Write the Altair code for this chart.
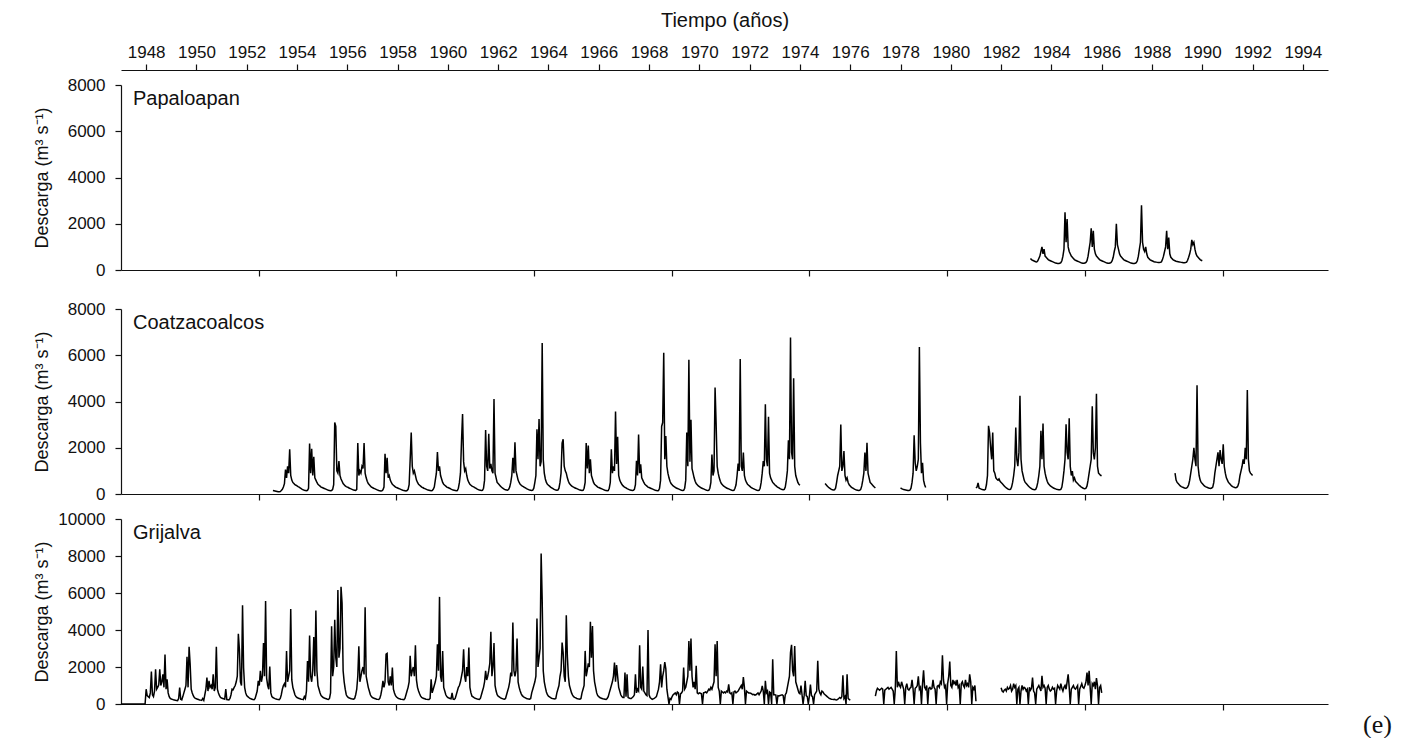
import altair as alt
import pandas as pd

# Discharge records (m3/s), one row per year, values spread evenly over the year.
# Each list is a continuous stretch of record; gaps between stretches are not joined.

papaloapan_1983 = [
    [None, None, None, None, 500, 450, 420, 400, 380, 360, 350, 400, 500, 600, 800, 1000, 700, 900, 600, 550, 500, 450, 420, 400],
    [380, 360, 340, 320, 300, 290, 280, 280, 290, 320, 400, 600, 900, 2500, 1200, 2200, 1000, 800, 700, 600, 550, 500, 450, 420],
    [400, 380, 360, 340, 320, 300, 290, 290, 300, 330, 400, 600, 900, 1200, 1800, 1000, 1700, 900, 700, 600, 550, 500, 450, 420],
    [400, 380, 360, 340, 320, 300, 290, 290, 300, 330, 400, 550, 800, 1000, 2000, 1100, 900, 700, 600, 550, 500, 450, 420, 400],
    [380, 360, 340, 320, 300, 290, 280, 280, 290, 320, 400, 600, 900, 1200, 2800, 1200, 900, 800, 1000, 700, 550, 500, 450, 420],
    [400, 380, 360, 350, 340, 330, 320, 320, 330, 350, 450, 600, 800, 1000, 1700, 900, 1400, 700, 550, 500, 450, 420, 400, 380],
    [370, 360, 350, 340, 330, 320, 310, 310, 320, 340, 420, 550, 700, 900, 1300, 1100, 1200, 900, 700, 600, 550, 500, 450, 420],
    [400],
]

coatza_1953 = [
    [None, 150, 140, 130, 120, 110, 100, 100, 110, 150, 200, 300, 450, 1060, 700, 1200, 900, 1930, 800, 600, 500, 450, 400, 380],
    [350, 320, 300, 260, 230, 200, 180, 160, 150, 140, 160, 250, 2180, 900, 1960, 800, 1610, 700, 600, 500, 420, 380, 340, 300],
    [280, 260, 240, 220, 200, 180, 160, 150, 140, 150, 200, 400, 3090, 2930, 1000, 900, 1420, 800, 650, 550, 450, 400, 350, 320],
    [300, 280, 250, 230, 210, 190, 170, 160, 150, 200, 2200, 800, 1000, 900, 1200, 1100, 2200, 900, 700, 550, 450, 400, 350, 300],
    [280, 250, 230, 210, 190, 170, 150, 140, 130, 140, 180, 300, 1740, 900, 1570, 700, 800, 600, 500, 420, 380, 340, 300, 280],
    [260, 240, 220, 200, 180, 160, 150, 140, 130, 150, 200, 400, 1500, 2660, 1200, 900, 1000, 800, 600, 500, 420, 380, 340, 300],
    [280, 250, 230, 210, 190, 170, 160, 150, 140, 150, 200, 300, 600, 900, 1815, 1000, 1200, 800, 650, 500, 420, 380, 340, 300],
    [280, 260, 240, 210, 190, 170, 160, 150, 140, 150, 250, 500, 900, 2300, 3455, 1400, 1000, 1100, 800, 600, 500, 420, 380, 340],
    [320, 300, 270, 240, 210, 190, 170, 160, 150, 160, 250, 600, 2770, 1200, 1000, 2600, 1100, 1300, 1000, 900, 4110, 900, 700, 500],
    [450, 400, 350, 300, 260, 230, 200, 180, 170, 160, 200, 300, 500, 800, 1570, 900, 2235, 1000, 800, 600, 500, 420, 380, 340],
    [320, 290, 260, 230, 210, 190, 170, 160, 150, 170, 250, 500, 800, 2800, 1500, 3240, 1200, 1400, 6530, 1500, 900, 650, 500, 420],
    [380, 340, 300, 270, 240, 210, 190, 170, 160, 170, 250, 500, 900, 2200, 2370, 1200, 1000, 900, 700, 550, 450, 400, 350, 320],
    [300, 270, 250, 230, 210, 190, 170, 160, 150, 160, 250, 500, 2200, 1100, 2100, 900, 1500, 800, 650, 500, 420, 380, 340, 300],
    [280, 260, 240, 220, 200, 180, 160, 150, 140, 150, 250, 500, 1930, 900, 1200, 1000, 3570, 1300, 2470, 800, 600, 500, 420, 360],
    [320, 290, 260, 230, 210, 190, 170, 160, 150, 160, 200, 400, 1440, 800, 2570, 900, 1280, 700, 600, 500, 420, 380, 340, 300],
    [280, 260, 240, 220, 200, 180, 160, 150, 140, 150, 250, 600, 2920, 3090, 6110, 1500, 2510, 1200, 900, 700, 550, 450, 400, 350],
    [320, 290, 260, 240, 220, 200, 180, 160, 150, 160, 250, 600, 2660, 1200, 5810, 1400, 3210, 1100, 900, 700, 550, 450, 400, 350],
    [320, 290, 260, 240, 220, 200, 180, 160, 150, 160, 250, 500, 1710, 800, 1000, 4600, 3050, 1200, 900, 700, 550, 450, 400, 350],
    [320, 290, 260, 240, 220, 200, 180, 160, 150, 160, 250, 400, 800, 1320, 1000, 5840, 1200, 1000, 1790, 800, 600, 500, 420, 380],
    [340, 300, 270, 240, 220, 200, 180, 160, 150, 160, 250, 500, 900, 1420, 1200, 3880, 1500, 1200, 3340, 900, 700, 600, 500, 450],
    [400, 360, 320, 290, 260, 230, 210, 190, 180, 200, 300, 600, 1000, 2320, 1500, 6770, 1800, 1500, 5010, 1200, 800, 650, 500, 420],
    [380],
]

coatza_1975 = [
    [450, 400, 350, 300, 260, 230, 200, 180, 170, 180, 250, 500, 800, 1000, 1200, 3005, 1000, 1200, 1860, 800, 600, 700, 500, 400],
    [350, 300, 270, 240, 210, 190, 170, 160, 150, 160, 200, 350, 600, 900, 1790, 1000, 2220, 900, 700, 500, 450, 400, 350, 300],
    [260],
]

coatza_1978 = [
    [260, 230, 210, 190, 180, 170, 160, 150, 150, 170, 250, 500, 900, 2540, 1350, 1000, 1200, 1500, 6360, 2220, 900, 1350, 600, 400],
    [280],
]

coatza_1981 = [
    [260, 300, 480, 250, 230, 210, 190, 180, 170, 200, 400, 800, 2950, 2660, 2000, 1500, 2660, 1000, 900, 700, 640, 600, 650, 550],
    [500, 450, 400, 350, 300, 260, 230, 200, 190, 200, 300, 500, 800, 1200, 2870, 1500, 1200, 1800, 4250, 1500, 1000, 800, 600, 500],
    [450, 400, 350, 300, 260, 230, 200, 190, 180, 200, 300, 500, 800, 1200, 2730, 1500, 3050, 1200, 900, 700, 550, 450, 400, 350],
    [320, 290, 260, 240, 220, 200, 190, 180, 180, 200, 300, 600, 1000, 1500, 3020, 1800, 1500, 3270, 1200, 800, 990, 600, 700, 550],
    [500, 450, 400, 360, 320, 290, 260, 240, 230, 250, 350, 600, 900, 1200, 1500, 3790, 1800, 1500, 2000, 4330, 1200, 900, 850, 800],
    [800],
]

coatza_1988 = [
    [None, None, None, None, None, None, None, None, None, None, None, None, None, None, None, None, None, None, None, None, None, None, 900, 600],
    [500, 450, 400, 350, 320, 300, 280, 260, 250, 260, 300, 400, 600, 900, 1200, 1500, 2000, 1500, 1200, 4700, 1200, 800, 600, 500],
    [450, 400, 350, 320, 300, 280, 260, 250, 240, 260, 300, 500, 900, 1200, 1500, 1800, 1200, 1900, 1500, 1300, 2150, 1200, 900, 700],
    [600, 500, 450, 400, 350, 320, 300, 280, 270, 290, 350, 500, 800, 1000, 1200, 1500, 1300, 2000, 1500, 4500, 1500, 1000, 900, 850],
    [800],
]

grijalva_1947 = [
    [0, 0, 0, 0, 0, 0, 0, 0, 0, 0, 0, 0, 0, 0, 0, 0, 0, 0, 0, 0, 0, 0, 0, 0],
    [800, 450, 400, 350, 600, 1750, 500, 400, 700, 1875, 800, 900, 1020, 1880, 1000, 1200, 1600, 900, 2680, 800, 1340, 600, 400, 300],
    [270, 250, 230, 220, 200, 190, 180, 300, 890, 250, 220, 400, 600, 800, 1000, 2550, 900, 3090, 2140, 800, 600, 450, 350, 300],
    [280, 260, 240, 220, 210, 200, 300, 200, 500, 800, 1430, 700, 1250, 900, 1000, 800, 1600, 700, 900, 3090, 800, 600, 450, 350],
    [320, 300, 280, 260, 800, 240, 230, 220, 300, 500, 800, 770, 900, 1000, 1200, 1500, 3800, 2950, 1200, 1000, 5340, 1960, 900, 600],
    [450, 400, 350, 300, 280, 260, 240, 230, 300, 500, 700, 1250, 1000, 1790, 1200, 1500, 3300, 1500, 5570, 1400, 1000, 800, 2020, 600],
    [400, 350, 320, 290, 270, 250, 240, 230, 300, 500, 800, 1000, 1100, 900, 2860, 1200, 1500, 1800, 5130, 1300, 900, 700, 500, 400],
    [350, 320, 300, 280, 260, 250, 240, 400, 300, 700, 2320, 1200, 3700, 1500, 1200, 1800, 3625, 1500, 5050, 1800, 1000, 800, 600, 450],
    [400, 350, 320, 300, 280, 260, 250, 300, 600, 4200, 1500, 2000, 4550, 2500, 2000, 6160, 2500, 3000, 6340, 5450, 1800, 1200, 800, 500],
    [400, 350, 320, 300, 280, 270, 260, 300, 500, 800, 1500, 3125, 1200, 1500, 1800, 2000, 1600, 5230, 1500, 1200, 900, 700, 500, 400],
    [350, 320, 300, 280, 260, 250, 240, 300, 500, 800, 1250, 900, 1200, 2690, 2730, 1200, 1000, 1500, 1000, 1970, 800, 600, 450, 380],
    [330, 300, 280, 260, 250, 240, 230, 300, 500, 700, 900, 1200, 2600, 1500, 1800, 2000, 1500, 3180, 1300, 900, 700, 550, 420, 350],
    [320, 300, 280, 260, 250, 240, 240, 300, 1340, 600, 800, 1000, 1200, 1500, 3230, 1800, 5790, 1500, 1200, 2870, 900, 700, 500, 400],
    [350, 320, 300, 280, 600, 260, 250, 300, 500, 700, 900, 1000, 1200, 1500, 1800, 2960, 1500, 1200, 2000, 1500, 3050, 900, 600, 420],
    [380, 340, 310, 290, 270, 260, 250, 300, 500, 700, 900, 1200, 1790, 1300, 1500, 1800, 2200, 3900, 1500, 2000, 3290, 1000, 700, 500],
    [420, 380, 340, 310, 290, 270, 260, 300, 500, 700, 900, 1200, 1700, 1500, 4400, 1800, 1500, 1800, 3540, 1200, 900, 700, 550, 450],
    [400, 360, 330, 300, 280, 270, 260, 300, 600, 800, 1000, 1200, 1500, 4620, 2000, 2500, 3000, 8140, 5610, 1800, 1200, 900, 650, 500],
    [420, 380, 340, 310, 290, 280, 270, 300, 600, 800, 1000, 1500, 1800, 3320, 2780, 1500, 1200, 4800, 2600, 1500, 1000, 800, 600, 480],
    [400, 360, 330, 300, 280, 270, 260, 300, 600, 800, 1000, 2870, 1500, 1800, 2200, 2000, 4440, 2500, 4220, 1800, 1200, 900, 600, 450],
    [400, 350, 320, 300, 280, 270, 260, 250, 300, 400, 600, 800, 1000, 1200, 1500, 2240, 1200, 2100, 1500, 900, 700, 500, 400, 350],
    [350, 1700, 400, 1600, 350, 320, 300, 300, 350, 400, 500, 1600, 600, 800, 700, 3180, 900, 800, 2020, 700, 600, 500, 450, 4000],
    [500, 350, 300, 250, 280, 300, 350, 400, 600, 800, 1200, 2150, 900, 1500, 1800, 2270, 1900, 800, 400, 0, 300, 250, 400, 500],
    [550, 600, 500, 650, 600, 0, 550, 600, 700, 1970, 800, 900, 1200, 1500, 3410, 1800, 3540, 1500, 900, 1200, 800, 2060, 600, 550],
    [600, 580, 550, 0, 600, 620, 650, 600, 700, 800, 750, 900, 800, 1000, 1200, 3230, 1500, 3410, 900, 700, 0, 700, 650, 600],
    [650, 600, 700, 650, 1060, 600, 550, 600, 0, 650, 700, 600, 650, 700, 800, 900, 1000, 800, 1460, 900, 0, 700, 650, 600],
    [600, 580, 550, 500, 520, 480, 500, 550, 600, 500, 600, 700, 975, 700, 0, 1250, 600, 700, 0, 650, 600, 0, 2420, 500],
    [500, 480, 0, 450, 430, 460, 480, 500, 450, 0, 500, 600, 900, 1200, 1500, 2780, 3200, 1800, 1500, 3140, 1200, 1000, 800, 600],
    [550, 1000, 500, 0, 450, 1250, 450, 400, 0, 420, 1050, 450, 400, 0, 500, 600, 700, 2330, 800, 600, 500, 700, 650, 550],
    [500, 450, 400, 350, 300, 280, 260, 250, 240, 250, 230, 220, 250, 300, 350, 300, 400, 1550, 300, 400, 0, 1600, 300, 250],
    [200],
]

grijalva_1977 = [
    [430, 700, 850, 800, 750, 800, 850, 800, 0, 750, 800, 850, 900, 800, 850, 900, 800, 700, 0, 800, 2870, 900, 1200, 1000],
    [900, 1200, 1000, 800, 0, 900, 1100, 800, 750, 850, 900, 1300, 800, 0, 850, 900, 1000, 1500, 800, 900, 0, 1100, 1820, 900],
    [800, 1000, 0, 850, 900, 800, 850, 1300, 900, 800, 0, 950, 1000, 900, 1200, 1100, 2640, 1300, 900, 1000, 0, 1100, 1500, 2290],
    [1000, 900, 1300, 1100, 1200, 1000, 1300, 900, 1000, 0, 1100, 1200, 1000, 900, 1300, 1000, 1100, 900, 1600, 1200, 0, 900, 800, 1000],
    [150],
]

grijalva_1982 = [
    [880, 700, 650, 750, 800, 700, 900, 800, 850, 1000, 700, 800, 1100, 900, 1000, 0, 800, 900, 0, 700, 1000, 800, 900, 850],
    [700, 800, 0, 900, 750, 850, 1430, 700, 600, 0, 800, 900, 1000, 850, 700, 1520, 900, 1000, 850, 0, 900, 1000, 800, 700],
    [750, 900, 800, 850, 0, 700, 1000, 900, 800, 1100, 850, 700, 900, 1000, 800, 1200, 1600, 900, 0, 800, 900, 1000, 850, 800],
    [900, 1000, 0, 800, 950, 1100, 900, 850, 1000, 1200, 1700, 1000, 1790, 900, 0, 1100, 1000, 1200, 800, 1400, 1000, 0, 900, 1000],
    [600],
]

TOP_YEARS = list(range(1948, 1995, 2))
# bottom axes carry a tick every 2000 days from 1 Jan 1947
DAY_TICKS = [1947 + d / 365.25 for d in range(2000, 16001, 2000)]


def expand(first_year, rows, label):
    recs = []
    for k, row in enumerate(rows):
        n = len(row)
        for i, q in enumerate(row):
            if q is None:
                continue
            recs.append({"t": first_year + k + i / n, "q": q, "tramo": label})
    return recs


pap = pd.DataFrame(expand(1983, papaloapan_1983, "a"))
coa = pd.DataFrame(
    expand(1953, coatza_1953, "a") + expand(1975, coatza_1975, "b")
    + expand(1978, coatza_1978, "c") + expand(1981, coatza_1981, "d")
    + expand(1988, coatza_1988, "e")
)
gri = pd.DataFrame(
    expand(1947, grijalva_1947, "a") + expand(1977, grijalva_1977, "b")
    + expand(1982, grijalva_1982, "c")
)

W, H = 1207, 185
FONT = "Liberation Sans"
INK = "#111"
X_SCALE = alt.Scale(domain=[1947, 1995], nice=False, zero=False)

bottom_axis = alt.Axis(
    values=DAY_TICKS, labels=False, title=None, grid=False,
    tickSize=6, tickColor=INK, domainColor=INK, domainWidth=1.2, tickWidth=1.2,
)


def y_axis(top):
    return alt.Axis(
        values=list(range(0, top + 1, 2000)), format="d", title="Descarga (m³ s⁻¹)", grid=False,
        tickSize=6, tickColor=INK, domainColor=INK, domainWidth=1.2, tickWidth=1.2,
        labelFont=FONT, labelFontSize=17, labelColor=INK, labelPadding=10,
        titleFont=FONT, titleFontSize=18, titleFontWeight="normal", titleColor=INK,
        titleX=-70, titleY=H / 2,
    )


def panel(df, top, name):
    line = alt.Chart(df).mark_line(color="black", strokeWidth=1.5).encode(
        x=alt.X("t:Q", scale=X_SCALE, axis=bottom_axis),
        y=alt.Y("q:Q", scale=alt.Scale(domain=[0, top], nice=False), axis=y_axis(top)),
        detail="tramo:N",
    )
    label = alt.Chart(pd.DataFrame({"s": [name]})).mark_text(
        align="left", baseline="middle", font=FONT, fontSize=20, color=INK
    ).encode(text="s:N", x=alt.value(12), y=alt.value(14))
    return line, label


p1_line, p1_label = panel(pap, 8000, "Papaloapan")
top_axis = alt.Chart(pap).mark_point(opacity=0).encode(
    x=alt.X(
        "t:Q", scale=X_SCALE,
        axis=alt.Axis(
            orient="top", values=TOP_YEARS, format="d", offset=15, grid=False,
            tickSize=6, tickColor=INK, domainColor=INK, domainWidth=1.2, tickWidth=1.2,
            labelFont=FONT, labelFontSize=17, labelColor=INK, labelPadding=2.5,
            title="Tiempo (años)", titleFont=FONT, titleFontSize=20,
            titleFontWeight="normal", titleColor=INK, titlePadding=13,
        ),
    )
)
p1 = alt.layer(p1_line, p1_label, top_axis).resolve_axis(x="independent").properties(width=W, height=H)

p2_line, p2_label = panel(coa, 8000, "Coatzacoalcos")
p2 = alt.layer(p2_line, p2_label).properties(width=W, height=H)

p3_line, p3_label = panel(gri, 10000, "Grijalva")
tag = alt.Chart(pd.DataFrame({"s": ["(e)"]})).mark_text(
    align="left", baseline="middle", font="Liberation Serif", fontSize=26, color=INK
).encode(text="s:N", x=alt.value(1242), y=alt.value(H + 21))
p3 = alt.layer(p3_line, p3_label, tag).properties(width=W, height=H)

chart = alt.vconcat(
    alt.vconcat(p1, p2, spacing=22), p3, spacing=8
).properties(
    padding={"left": 32, "top": 10, "right": 0, "bottom": 0},
    background="white",
).configure_view(stroke="transparent", strokeWidth=0)

chart.save("out.html", embed_options={"renderer": "svg", "actions": False})
